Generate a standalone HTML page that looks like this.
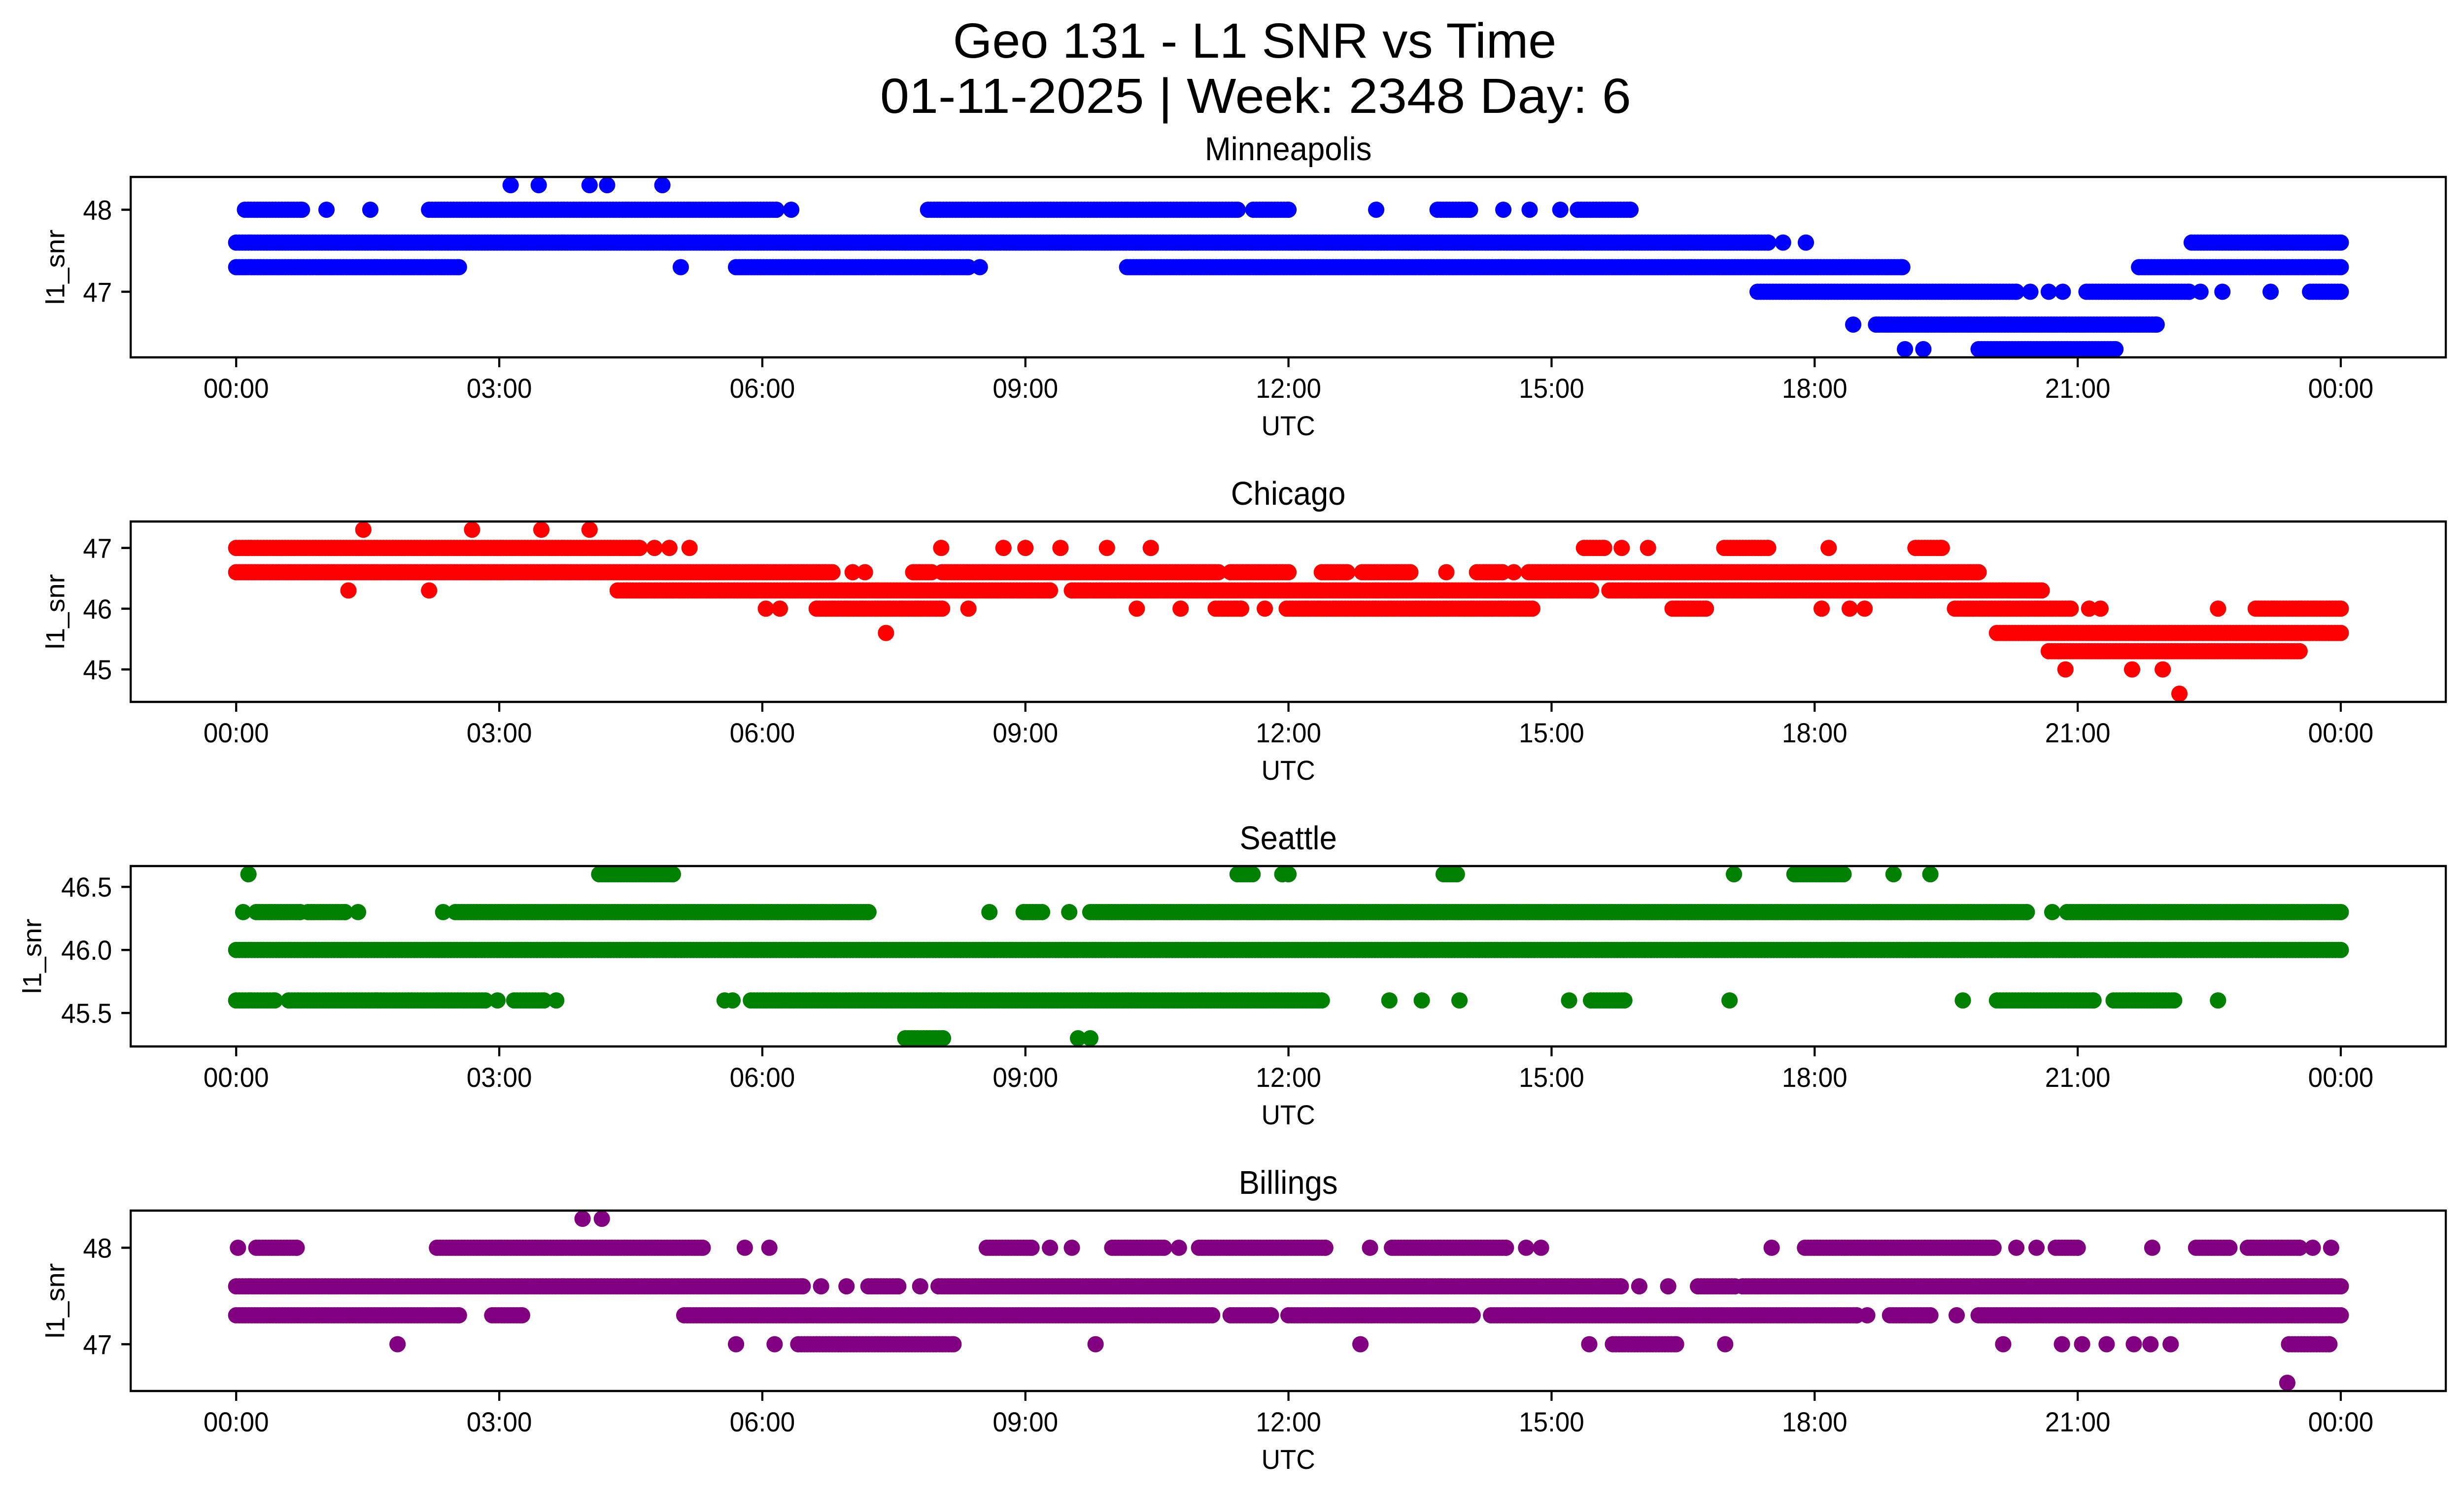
<!DOCTYPE html>
<html>
<head>
<meta charset="utf-8">
<style>
html,body{margin:0;padding:0;background:#fff;width:100vw;height:100vh;overflow:hidden;}
svg{display:block;position:fixed;left:0;top:0;width:100vw;height:100vh;}
text{font-family:"Liberation Sans","DejaVu Sans",sans-serif;fill:#000;}
</style>
</head>
<body>
<svg id="fig" viewBox="0 0 5279 3033" preserveAspectRatio="none" overflow="hidden" xmlns="http://www.w3.org/2000/svg">
  <rect x="0" y="0" width="5279" height="3033" fill="#fff"/>
  <text x="2688" y="117" font-size="100" text-anchor="middle" textLength="1293" lengthAdjust="spacingAndGlyphs">Geo 131 - L1 SNR vs Time</text>
  <text x="2690" y="229" font-size="100" text-anchor="middle" textLength="1609" lengthAdjust="spacingAndGlyphs">01-11-2025 | Week: 2348 Day: 6</text>
</svg>
<script>
// ---- data (hours UTC; single number = one sample, [a,b] = continuous run of samples) ----
const hourTicks = [0, 3, 6, 9, 12, 15, 18, 21, 24];
const hourTickLabels = ["00:00","03:00","06:00","09:00","12:00","15:00","18:00","21:00","00:00"];

const minneapolisLevels = [48.3, 48.0, 47.6, 47.3, 47.0, 46.6, 46.3];
const minneapolisRuns = [
  [3.13, 3.45, 4.03, 4.23, 4.86],
  [[0.1,0.75],1.03,1.53,[2.2,6.16],6.33,[7.89,11.42],[11.6,12.0],13.0,[13.7,14.07],14.45,14.75,15.1,[15.3,15.9]],
  [[0,17.47],17.64,17.9,[22.3,24]],
  [[0,2.54],5.07,[5.7,8.35],8.48,[10.16,19.0],[21.7,24]],
  [[17.35,20.3],20.46,20.67,20.83,[21.1,22.27],22.4,22.65,23.2,[23.65,24]],
  [18.44,[18.7,21.9]],
  [19.03,19.24,[19.87,21.43]]
];
const minneapolisTicks = [47, 48];
const minneapolisTickLabels = ["47", "48"];

const chicagoLevels = [47.3, 47.0, 46.6, 46.3, 46.0, 45.6, 45.3, 45.0, 44.6];
const chicagoRuns = [
  [1.45, 2.69, 3.48, 4.03],
  [[0,4.6],4.77,4.94,5.17,8.04,8.75,9.0,9.4,9.93,10.43,[15.37,15.6],15.8,16.1,[16.97,17.47],18.16,[19.15,19.45]],
  [[0,6.8],7.03,7.17,[7.72,7.93],[8.05,11.2],[11.34,12.0],[12.38,12.67],[12.84,13.39],13.8,[14.15,14.44],14.57,[14.74,19.87]],
  [1.28,2.2,[4.35,9.28],[9.53,15.45],[15.66,20.59]],
  [6.04,6.2,[6.62,8.05],8.35,10.27,10.77,[11.17,11.46],11.73,[11.98,14.78],[16.38,16.76],18.08,18.4,18.57,[19.6,20.92],21.13,21.26,22.6,[23.03,24]],
  [7.41,[20.08,24]],
  [[20.67,23.53]],
  [20.86,21.62,21.97],
  [22.16]
];
const chicagoTicks = [45, 46, 47];
const chicagoTickLabels = ["45", "46", "47"];

const seattleLevels = [46.6, 46.3, 46.0, 45.6, 45.3];
const seattleRuns = [
  [0.14,[4.14,4.98],[11.42,11.59],11.93,12.0,[13.77,13.92],17.08,[17.77,18.33],18.9,19.32],
  [0.08,[0.23,0.73],[0.82,1.24],1.39,2.36,[2.5,7.21],8.59,[8.98,9.19],9.5,[9.74,20.42],20.71,[20.88,24]],
  [[0,24]],
  [[0,0.44],[0.6,2.84],2.98,[3.17,3.51],3.65,5.57,5.66,[5.87,12.38],13.15,13.52,13.95,15.2,[15.45,15.83],17.03,19.69,[20.08,21.18],[21.41,22.1],22.6],
  [[7.63,8.06],9.6,9.74]
];
const seattleTicks = [45.5, 46.0, 46.5];
const seattleTickLabels = ["45.5", "46.0", "46.5"];

const billingsLevels = [48.3, 48.0, 47.6, 47.3, 47.0, 46.6];
const billingsRuns = [
  [3.95, 4.17],
  [0.02,[0.23,0.69],[2.29,5.32],5.8,6.08,[8.56,9.07],9.28,9.53,[9.99,10.58],10.75,[10.98,12.42],12.93,[13.18,14.48],14.71,14.88,17.51,[17.89,20.04],20.3,20.53,[20.75,21.0],21.85,[22.35,22.73],[22.94,23.53],23.68,23.89],
  [[0,6.46],6.67,6.96,[7.21,7.55],7.8,[8.01,15.79],16.0,16.33,[16.67,17.09],[17.18,24]],
  [[0,2.54],[2.92,3.26],[5.11,11.13],[11.34,11.8],[12.0,14.1],[14.31,18.48],18.6,[18.86,19.32],19.62,[19.87,24]],
  [1.84,5.7,6.14,[6.41,8.18],9.8,12.82,15.43,[15.7,16.42],16.98,20.15,20.82,21.05,21.33,21.64,21.83,22.06,[23.41,23.87]],
  [23.39]
];
const billingsTicks = [47, 48];
const billingsTickLabels = ["47", "48"];

// ---- layout ----
const NS = "http://www.w3.org/2000/svg";
const svg = document.getElementById("fig");
const AX_L = 280, AX_R = 5240, AX_H = 366;
const X0 = 506, X24 = 5015;
const STEP = 0.035;
function xScale(h){ return X0 + (X24 - X0) * h / 24; }
function mk(tag, attrs){ const e = document.createElementNS(NS, tag); for (const k in attrs) e.setAttribute(k, attrs[k]); return e; }

const panels = [
  {key:"minneapolis", title:"Minneapolis", color:"#0000ff", top:359, ymin:46.2, ymax:48.4, levels:minneapolisLevels, runs:minneapolisRuns, ticks:minneapolisTicks, tickLabels:minneapolisTickLabels, ylabX:118},
  {key:"chicago", title:"Chicago", color:"#ff0000", top:1058, ymin:44.465, ymax:47.435, levels:chicagoLevels, runs:chicagoRuns, ticks:chicagoTicks, tickLabels:chicagoTickLabels, ylabX:118},
  {key:"seattle", title:"Seattle", color:"#008000", top:1757, ymin:45.235, ymax:46.665, levels:seattleLevels, runs:seattleRuns, ticks:seattleTicks, tickLabels:seattleTickLabels, ylabX:68},
  {key:"billings", title:"Billings", color:"#800080", top:2456, ymin:46.515, ymax:48.385, levels:billingsLevels, runs:billingsRuns, ticks:billingsTicks, tickLabels:billingsTickLabels, ylabX:118}
];

panels.forEach(function(p){
  const bottom = p.top + AX_H;
  function yScale(v){ return bottom - (v - p.ymin) / (p.ymax - p.ymin) * AX_H; }
  const g = mk("g", {});
  
  
  svg.appendChild(g);

  const cp = mk("clipPath", {id: "clip-" + p.key});
  cp.appendChild(mk("rect", {x: AX_L, y: p.top, width: AX_R - AX_L, height: AX_H}));
  g.appendChild(cp);

  const pts = mk("g", {fill: p.color, "clip-path": "url(#clip-" + p.key + ")"});
  
  
  g.appendChild(pts);
  p.levels.forEach(function(lv, i){
    const cy = yScale(lv);
    p.runs[i].forEach(function(r){
      const a = Array.isArray(r) ? r[0] : r;
      const b = Array.isArray(r) ? r[1] : r;
      const hs = [];
      for (let h = a; h < b; h += STEP) hs.push(h);
      hs.push(b);
      hs.forEach(function(h){
        const c = mk("ellipse", {cx: xScale(h).toFixed(1), cy: cy.toFixed(1), rx: 17.5, ry: 16.5});
        
        
        pts.appendChild(c);
      });
    });
  });

  const frame = mk("rect", {x: AX_L, y: p.top, width: AX_R - AX_L, height: AX_H, fill: "none", stroke: "#000", "stroke-width": 4.5});
  
  
  g.appendChild(frame);

  hourTicks.forEach(function(h, i){
    const x = xScale(h);
    g.appendChild(mk("line", {x1: x, x2: x, y1: bottom, y2: bottom + 20, stroke: "#000", "stroke-width": 4.5}));
    const t = mk("text", {x: x, y: bottom + 82, "font-size": 56, "text-anchor": "middle"});
    t.textContent = hourTickLabels[i];
    
    
    g.appendChild(t);
  });
  const xl = mk("text", {x: (AX_L + AX_R) / 2, y: bottom + 158, "font-size": 56, "text-anchor": "middle"});
  xl.textContent = "UTC";
  
  
  g.appendChild(xl);

  p.ticks.forEach(function(v, i){
    const y = yScale(v);
    g.appendChild(mk("line", {x1: AX_L - 20, x2: AX_L, y1: y, y2: y, stroke: "#000", "stroke-width": 4.5}));
    const t = mk("text", {x: AX_L - 40, y: y + 20, "font-size": 56, "text-anchor": "end"});
    t.textContent = p.tickLabels[i];
    
    
    g.appendChild(t);
  });
  const yc = p.top + AX_H / 2;
  const yl = mk("text", {x: p.ylabX, y: yc, "font-size": 56, "text-anchor": "middle", transform: "rotate(-90 " + p.ylabX + " " + yc + ")", dy: 20});
  yl.textContent = "l1_snr";
  
  
  g.appendChild(yl);

  const tt = mk("text", {x: (AX_L + AX_R) / 2, y: p.top - 34, "font-size": 67, "text-anchor": "middle"});
  tt.textContent = p.title;
  
  
  g.appendChild(tt);
});
</script>
</body>
</html>
